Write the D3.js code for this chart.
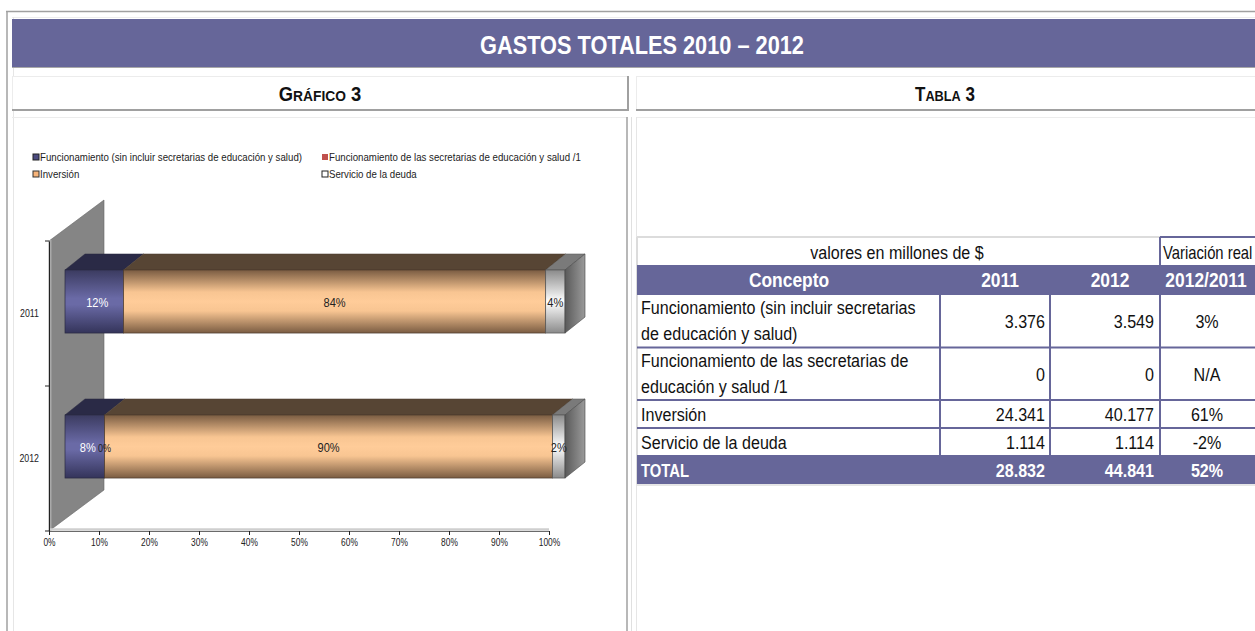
<!DOCTYPE html>
<html><head><meta charset="utf-8">
<script src="https://cdn.jsdelivr.net/npm/d3@7"></script>
<style>body{margin:0;background:#fff}svg{display:block}</style>
</head><body><svg id="c" width="1255" height="631"></svg>
<script>
// ---------- data ----------
const categories = ["2011", "2012"];
const seriesKeys = ["funcSin", "funcEdu", "inversion", "deuda"];
const seriesNames = [
  "Funcionamiento (sin incluir secretarias de educación y salud)",
  "Funcionamiento de las secretarias de educación y salud /1",
  "Inversión",
  "Servicio de la deuda"
];
const funcSin = [3376, 3549];
const funcEdu = [0, 0];
const inversion = [24341, 40177];
const deuda = [1114, 1114];
const eduLabelShown = [false, true];   // Excel shows the 0% label only for 2012
const xTicks = [0, 0.1, 0.2, 0.3, 0.4, 0.5, 0.6, 0.7, 0.8, 0.9, 1];

const tableTitle = "valores en millones de $";
const tableVarTitle = "Variación real";
const tableHeaders = ["Concepto", "2011", "2012", "2012/2011"];
const tableConcepts = [
  ["Funcionamiento (sin incluir secretarias", "de educación y salud)"],
  ["Funcionamiento de las secretarias de", "educación y salud /1"],
  ["Inversión"],
  ["Servicio de la deuda"]
];
const table2011 = [3376, 0, 24341, 1114];
const table2012 = [3549, 0, 40177, 1114];
const tableVariation = ["3%", "N/A", "61%", "-2%"];
const totalLabel = "TOTAL";
const totals = [28832, 44841];
const totalVariation = "52%";

// ---------- setup ----------
const svg = d3.select("#c");
const FONT = "'Liberation Sans',Arial,Helvetica,sans-serif";
const PURPLE = "#666699";
const loc = d3.formatLocale({decimal: ",", thousands: ".", grouping: [3], currency: ["$", ""]});
const fmtNum = loc.format(",d");
const fmtPct = d3.format(".0%");

// condense text horizontally (reference uses a narrow typeface)
function squeeze(sel, f) {
  sel.each(function () {
    const el = d3.select(this);
    const tx = +(el.attr("x") || 0), ty = +(el.attr("y") || 0);
    el.attr("x", 0).attr("y", 0).attr("transform", `translate(${tx},${ty}) scale(${f},1)`);
  });
  return sel;
}

svg.append("rect").attr("width", 1255).attr("height", 631).attr("fill", "#fff");

// frame lines
const frame = svg.append("g");
frame.append("line").attr("x1", 6).attr("x2", 1255).attr("y1", 11.5).attr("y2", 11.5).attr("stroke", "#a0a0a0").attr("stroke-width", 1.5);
frame.append("line").attr("x1", 7).attr("x2", 7).attr("y1", 11).attr("y2", 631).attr("stroke", "#a0a0a0").attr("stroke-width", 1.5);
frame.append("line").attr("x1", 12).attr("x2", 1255).attr("y1", 17.5).attr("y2", 17.5).attr("stroke", "#ececec");
frame.append("line").attr("x1", 13.5).attr("x2", 13.5).attr("y1", 17).attr("y2", 631).attr("stroke", "#e6e6e6");

// title band
svg.append("rect").attr("x", 12).attr("y", 19).attr("width", 1243).attr("height", 48).attr("fill", PURPLE);
svg.append("line").attr("x1", 12).attr("x2", 1255).attr("y1", 67.5).attr("y2", 67.5).attr("stroke", "#a8a8a8");
squeeze(svg.append("text").attr("x", 642).attr("y", 54).attr("text-anchor", "middle")
  .attr("font-family", FONT).attr("font-weight", "bold").attr("font-size", 25).attr("fill", "#fff")
  .text("GASTOS TOTALES 2010 – 2012"), 0.87);

// section header boxes
function headerBox(x0, x1, cx, big, small, rest, f) {
  const g = svg.append("g");
  g.append("rect").attr("x", x0).attr("y", 76).attr("width", x1 - x0).attr("height", 34).attr("fill", "#fff");
  g.append("line").attr("x1", x0).attr("x2", x1).attr("y1", 76.5).attr("y2", 76.5).attr("stroke", "#ececec");
  g.append("line").attr("x1", x0 + .5).attr("x2", x0 + .5).attr("y1", 76).attr("y2", 110).attr("stroke", "#ececec");
  g.append("line").attr("x1", x0).attr("x2", x1).attr("y1", 110).attr("y2", 110).attr("stroke", "#a0a0a0").attr("stroke-width", 2);
  g.append("line").attr("x1", x1).attr("x2", x1).attr("y1", 76).attr("y2", 111).attr("stroke", "#a0a0a0").attr("stroke-width", 2);
  const t = g.append("text").attr("x", cx).attr("y", 101).attr("text-anchor", "middle")
    .attr("font-family", FONT).attr("font-weight", "bold").attr("fill", "#111");
  t.append("tspan").attr("font-size", 20).text(big);
  t.append("tspan").attr("font-size", 15).text(small);
  t.append("tspan").attr("font-size", 20).text(rest);
  squeeze(t, f);
}
headerBox(12, 628, 320, "G", "RÁFICO", " 3", 0.92);
headerBox(636, 1262, 945, "T", "ABLA", " 3", 0.85);

// panel borders
svg.append("line").attr("x1", 12).attr("x2", 628).attr("y1", 117.5).attr("y2", 117.5).attr("stroke", "#ececec");
svg.append("line").attr("x1", 636).attr("x2", 1255).attr("y1", 117.5).attr("y2", 117.5).attr("stroke", "#ececec");
svg.append("line").attr("x1", 627).attr("x2", 627).attr("y1", 117).attr("y2", 631).attr("stroke", "#a0a0a0").attr("stroke-width", 1.5);
svg.append("line").attr("x1", 631.5).attr("x2", 631.5).attr("y1", 117).attr("y2", 631).attr("stroke", "#e0e0e0");
svg.append("line").attr("x1", 636.5).attr("x2", 636.5).attr("y1", 117).attr("y2", 631).attr("stroke", "#e6e6e6");

// ---------- chart ----------
const defs = svg.append("defs");
function vgrad(id, stops) {
  const g = defs.append("linearGradient").attr("id", id).attr("x1", 0).attr("y1", 0).attr("x2", 0).attr("y2", 1);
  stops.forEach(([o, c]) => g.append("stop").attr("offset", o).attr("stop-color", c));
}
vgrad("gFunc", [[0, "#3b3b60"], [0.45, "#6a6aa6"], [0.55, "#6a6aa6"], [1, "#34345a"]]);
vgrad("gEdu", [[0, "#7a2e2c"], [0.5, "#c0504d"], [1, "#7a2e2c"]]);
vgrad("gInv", [[0, "#7a5c42"], [0.35, "#f8c592"], [0.5, "#ffcc99"], [0.65, "#f8c592"], [1, "#7a5c42"]]);
vgrad("gDeu", [[0, "#8a8a8a"], [0.5, "#ffffff"], [1, "#8a8a8a"]]);
const hg = defs.append("linearGradient").attr("id", "gEnd").attr("x1", 0).attr("y1", 0).attr("x2", 1).attr("y2", 0);
hg.append("stop").attr("offset", 0).attr("stop-color", "#5a5a5a");
hg.append("stop").attr("offset", 1).attr("stop-color", "#9a9a9a");

const fills = {funcSin: "url(#gFunc)", funcEdu: "url(#gEdu)", inversion: "url(#gInv)", deuda: "url(#gDeu)"};
const tops = {funcSin: "#2a2a46", funcEdu: "#5a2220", inversion: "#574534", deuda: "#7a7a7a"};
const strokes = {funcSin: "#2a2a40", funcEdu: "#4a1a1a", inversion: "#4a3a2c", deuda: "#555"};
const labelColors = {funcSin: "#fff", funcEdu: "#222", inversion: "#222", deuda: "#222"};
const legendFills = {funcSin: "#4b4b80", funcEdu: "#c0504d", inversion: "#f7b47a", deuda: "#fff"};
const legendStrokes = {funcSin: "#222", funcEdu: "none", inversion: "#333", deuda: "#222"};
const values = {funcSin, funcEdu, inversion, deuda};

const x = d3.scaleLinear().domain([0, 1]).range([49, 549]);
const y = d3.scaleBand().domain(categories).range([241, 531]);
const wallDX = 55, wallDY = -41;
const offX = 16, offY = -12;       // bars sit slightly into the depth
const barDX = 20, barDY = -16;     // bar depth
const barH = y.bandwidth() * 0.435;

const chart = svg.append("g");
// back wall
chart.append("polygon")
  .attr("points", [[x(0), y.range()[0]], [x(0) + wallDX, y.range()[0] + wallDY], [x(0) + wallDX, y.range()[1] + wallDY], [x(0), y.range()[1]]].join(" "))
  .attr("fill", "#858585").attr("stroke", "#666").attr("stroke-width", 0.6);
chart.append("line").attr("x1", x(0) + 1.5).attr("x2", x(0) + 1.5).attr("y1", y.range()[0] - 1).attr("y2", y.range()[1])
  .attr("stroke", "#a9a9a9").attr("stroke-width", 2);

// floor edge
chart.append("line").attr("x1", x(0)).attr("x2", x(1)).attr("y1", y.range()[1] - 1.5).attr("y2", y.range()[1] - 1.5)
  .attr("stroke", "#cfcfcf").attr("stroke-width", 2.5);

// x axis
const xAxis = chart.append("g").attr("transform", `translate(0,${y.range()[1]})`)
  .call(d3.axisBottom(x).tickValues(xTicks).tickFormat(fmtPct).tickSize(4).tickPadding(4));
xAxis.select(".domain").attr("stroke", "#444").attr("stroke-width", 0.8);
xAxis.selectAll(".tick line").attr("stroke", "#222");
squeeze(xAxis.selectAll("text").attr("font-family", FONT).attr("font-size", 10.5).attr("fill", "#222"), 0.8);

// y axis
const yAxis = chart.append("g").attr("transform", `translate(${x(0)},0)`)
  .call(d3.axisLeft(y).tickSize(0).tickPadding(10));
yAxis.select(".domain").attr("stroke", "#222").attr("stroke-width", 1);
squeeze(yAxis.selectAll("text").attr("font-family", FONT).attr("font-size", 11).attr("fill", "#222"), 0.8);
const bounds = [y.range()[0], ...categories.map(c => y(c) + y.bandwidth())];
chart.selectAll(".ytick").data(bounds).join("line").attr("class", "ytick")
  .attr("x1", x(0) - 4).attr("x2", x(0)).attr("y1", d => d).attr("y2", d => d).attr("stroke", "#222");

// stacked data
const rows = categories.map((c, i) => {
  const r = {cat: c, idx: i};
  seriesKeys.forEach(k => r[k] = values[k][i]);
  return r;
});
const stack = d3.stack().keys(seriesKeys).offset(d3.stackOffsetExpand)(rows);

const bars = chart.append("g");
categories.forEach((cat, ci) => {
  const top = y(cat) + (y.bandwidth() - barH) / 2 + offY;
  const bot = top + barH;
  const g = bars.append("g");
  // top faces
  stack.forEach(layer => {
    const d = layer[ci];
    const x0 = x(d[0]) + offX, x1 = x(d[1]) + offX;
    if (x1 - x0 <= 0) return;
    g.append("polygon")
      .attr("points", [[x0, top], [x1, top], [x1 + barDX, top + barDY], [x0 + barDX, top + barDY]].join(" "))
      .attr("fill", tops[layer.key]).attr("stroke", strokes[layer.key]).attr("stroke-width", 0.5);
  });
  // fronts
  stack.forEach(layer => {
    const d = layer[ci];
    const x0 = x(d[0]) + offX, x1 = x(d[1]) + offX;
    if (x1 - x0 <= 0) return;
    g.append("rect").attr("x", x0).attr("y", top).attr("width", x1 - x0).attr("height", barH)
      .attr("fill", fills[layer.key]).attr("stroke", strokes[layer.key]).attr("stroke-width", 0.7);
  });
  // right end face
  const last = stack[stack.length - 1][ci];
  const xe = x(last[1]) + offX;
  g.append("polygon")
    .attr("points", [[xe, top], [xe + barDX, top + barDY], [xe + barDX, bot + barDY], [xe, bot]].join(" "))
    .attr("fill", "url(#gEnd)").attr("stroke", "#444").attr("stroke-width", 0.6);
  // labels
  stack.forEach(layer => {
    const d = layer[ci];
    if (layer.key === "funcEdu" && !eduLabelShown[ci]) return;
    const share = d[1] - d[0];
    const cx = (x(d[0]) + x(d[1])) / 2 + offX + (layer.key === "funcSin" ? 3 : 0);
    squeeze(g.append("text").attr("x", cx).attr("y", (top + bot) / 2 + 5).attr("text-anchor", "middle")
      .attr("font-family", FONT).attr("font-size", layer.key === "funcEdu" ? 11 : 13.5)
      .attr("fill", labelColors[layer.key]).text(fmtPct(share)), 0.82);
  });
});

// legend
const legend = chart.append("g");
const legPos = [[33, 160], [322, 160], [33, 177], [322, 177]];
seriesKeys.forEach((k, i) => {
  const [lx, ly] = legPos[i];
  legend.append("rect").attr("x", lx).attr("y", ly - 6).attr("width", 6).attr("height", 6)
    .attr("fill", legendFills[k]).attr("stroke", legendStrokes[k]).attr("stroke-width", 1);
  squeeze(legend.append("text").attr("x", lx + 7).attr("y", ly + 1).attr("font-family", FONT).attr("font-size", 11)
    .attr("fill", "#222").text(seriesNames[i]), 0.88);
});

// ---------- table ----------
const T = svg.append("g").attr("font-family", FONT).attr("font-size", 18.5);
const SQ = 0.87;
const colEdges = [637, 940, 1050, 1160, 1262];
const headTop = 237, headRowTop = 265, headRowBot = 295;
const rowHeights = tableConcepts.map(l => l.length === 2 ? 52.5 : 28);
const rowTops = [];
rowHeights.reduce((acc, h) => { rowTops.push(acc); return acc + h; }, headRowBot);
const totalTop = rowTops[rowTops.length - 1] + rowHeights[rowHeights.length - 1];
const totalBot = totalTop + 28;

// title row
T.append("rect").attr("x", colEdges[0]).attr("y", headTop).attr("width", colEdges[4] - colEdges[0]).attr("height", totalBot - headTop).attr("fill", "#fff");
T.append("line").attr("x1", colEdges[0]).attr("x2", colEdges[3]).attr("y1", headTop).attr("y2", headTop).attr("stroke", "#dcdcdc").attr("stroke-width", 2);
T.append("line").attr("x1", colEdges[0]).attr("x2", colEdges[0]).attr("y1", headTop).attr("y2", totalBot).attr("stroke", "#dcdcdc").attr("stroke-width", 2);
squeeze(T.append("text").attr("x", 897).attr("y", headTop + 22).attr("text-anchor", "middle").attr("fill", "#111").text(tableTitle), SQ);
T.append("line").attr("x1", colEdges[3]).attr("x2", colEdges[4]).attr("y1", headTop).attr("y2", headTop).attr("stroke", PURPLE).attr("stroke-width", 2);
T.append("line").attr("x1", colEdges[3]).attr("x2", colEdges[3]).attr("y1", headTop).attr("y2", headRowTop).attr("stroke", PURPLE).attr("stroke-width", 2);
squeeze(T.append("text").attr("x", colEdges[3] + 3).attr("y", headTop + 22).attr("fill", "#111").text(tableVarTitle), 0.8);

// header row
T.append("rect").attr("x", colEdges[0]).attr("y", headRowTop).attr("width", colEdges[4] - colEdges[0]).attr("height", headRowBot - headRowTop).attr("fill", PURPLE);
tableHeaders.forEach((h, i) => {
  squeeze(T.append("text").attr("x", i === 0 ? 789 : (i === 3 ? 1206 : colEdges[i + 1] - 50))
    .attr("y", headRowTop + 22).attr("text-anchor", "middle").attr("font-weight", "bold").attr("font-size", 20)
    .attr("fill", "#fff").text(h), SQ);
});

// body rows
tableConcepts.forEach((lines, i) => {
  const t0 = rowTops[i], h = rowHeights[i];
  const mid = t0 + h / 2;
  lines.forEach((ln, j) => {
    const yy = lines.length === 2 ? t0 + 19 + j * 26 : t0 + 21;
    squeeze(T.append("text").attr("x", colEdges[0] + 4).attr("y", yy).attr("fill", "#111").text(ln), SQ);
  });
  squeeze(T.append("text").attr("x", colEdges[2] - 5).attr("y", mid + 7).attr("text-anchor", "end").attr("fill", "#111").text(fmtNum(table2011[i])), SQ);
  squeeze(T.append("text").attr("x", colEdges[3] - 6).attr("y", mid + 7).attr("text-anchor", "end").attr("fill", "#111").text(fmtNum(table2012[i])), SQ);
  squeeze(T.append("text").attr("x", 1207).attr("y", mid + 7).attr("text-anchor", "middle").attr("fill", "#111").text(tableVariation[i]), SQ);
  T.append("line").attr("x1", colEdges[0]).attr("x2", colEdges[4]).attr("y1", t0 + h).attr("y2", t0 + h).attr("stroke", PURPLE).attr("stroke-width", 2);
});
// vertical lines in body
colEdges.slice(1, 4).forEach(cx => {
  T.append("line").attr("x1", cx).attr("x2", cx).attr("y1", headRowBot).attr("y2", totalTop).attr("stroke", PURPLE).attr("stroke-width", 2);
});

// total row
T.append("rect").attr("x", colEdges[0]).attr("y", totalTop).attr("width", colEdges[4] - colEdges[0]).attr("height", totalBot - totalTop).attr("fill", PURPLE);
squeeze(T.append("text").attr("x", colEdges[0] + 4).attr("y", totalTop + 21).attr("font-weight", "bold").attr("fill", "#fff").text(totalLabel), 0.8);
squeeze(T.append("text").attr("x", colEdges[2] - 5).attr("y", totalTop + 21).attr("text-anchor", "end").attr("font-weight", "bold").attr("fill", "#fff").text(fmtNum(totals[0])), SQ);
squeeze(T.append("text").attr("x", colEdges[3] - 6).attr("y", totalTop + 21).attr("text-anchor", "end").attr("font-weight", "bold").attr("fill", "#fff").text(fmtNum(totals[1])), SQ);
squeeze(T.append("text").attr("x", 1207).attr("y", totalTop + 21).attr("text-anchor", "middle").attr("font-weight", "bold").attr("fill", "#fff").text(totalVariation), SQ);
T.append("line").attr("x1", colEdges[0]).attr("x2", colEdges[4]).attr("y1", totalBot + 1).attr("y2", totalBot + 1).attr("stroke", "#e6e6e6").attr("stroke-width", 2);
</script></body></html>
